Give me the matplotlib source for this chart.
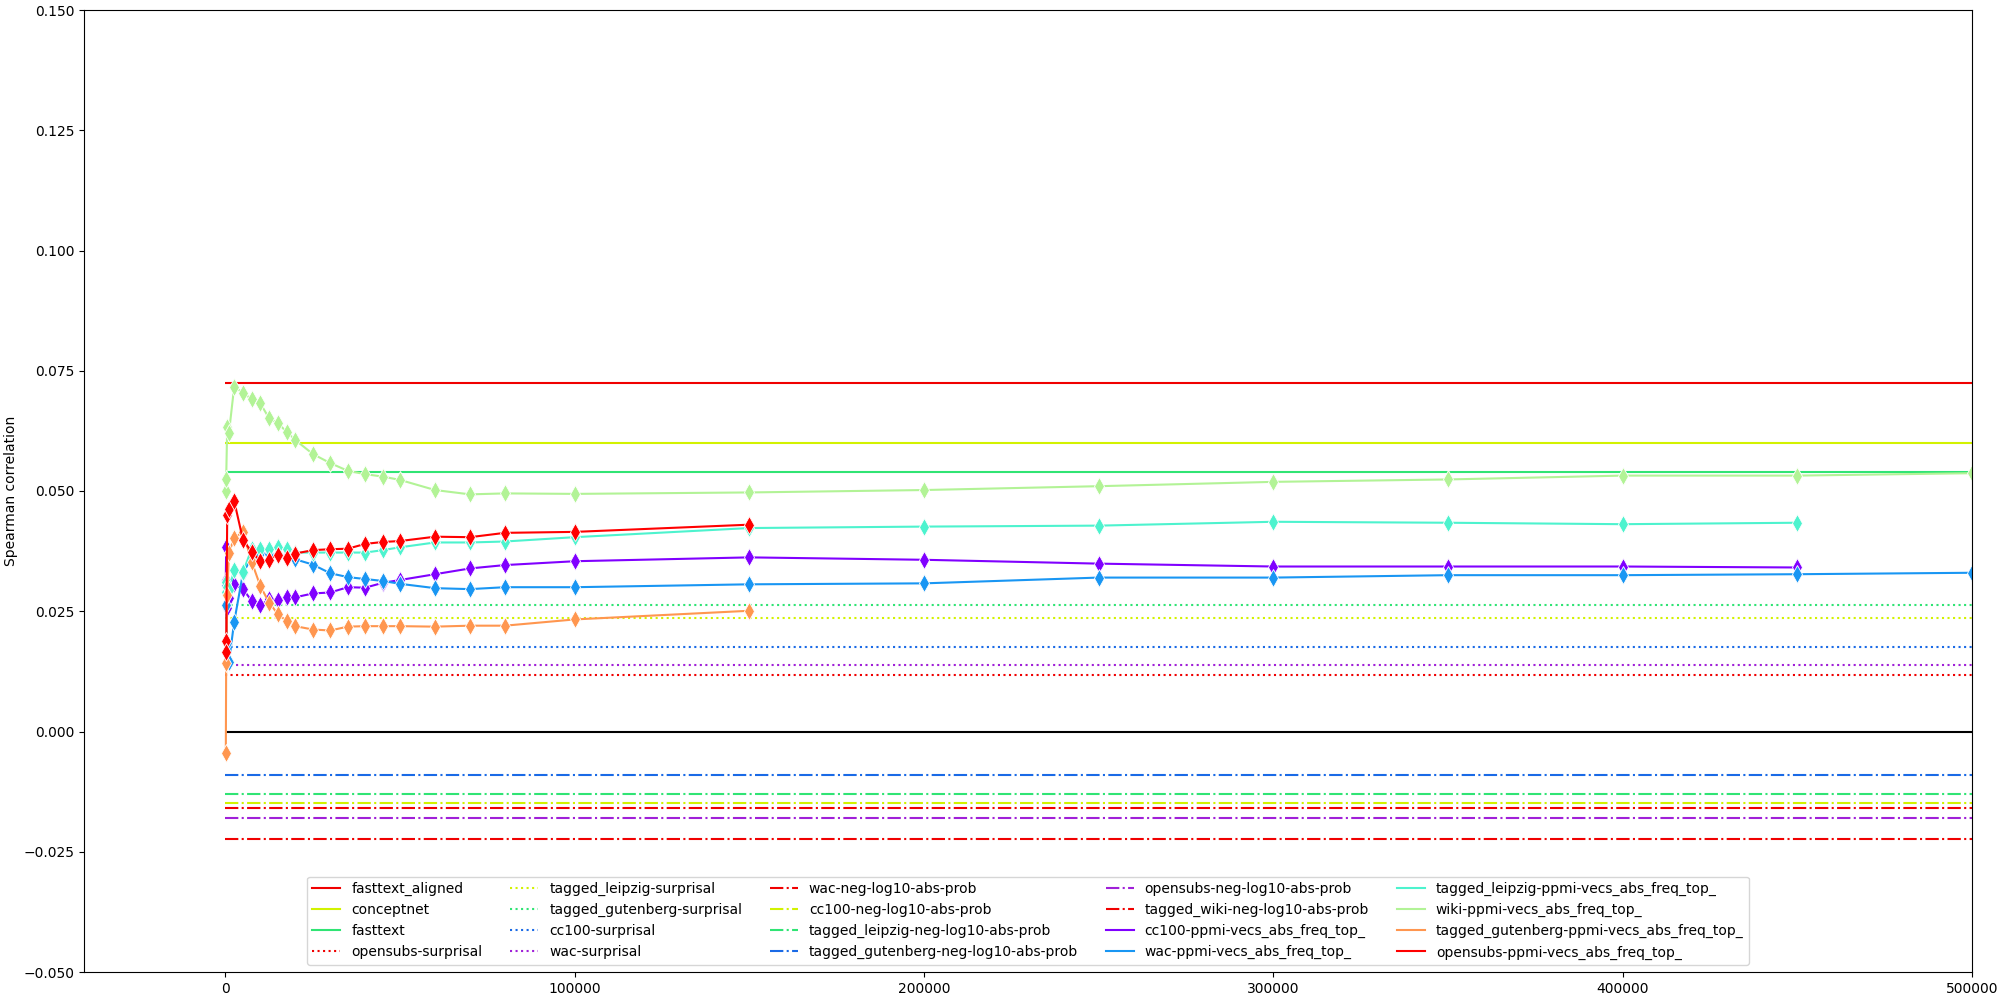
import matplotlib
matplotlib.use("Agg")
import matplotlib.pyplot as plt
from matplotlib.lines import Line2D

# ---------------- data ----------------
x_steps = [100, 200, 500, 1000, 2500, 5000, 7500, 10000, 12500, 15000, 17500,
           20000, 25000, 30000, 35000, 40000, 45000, 50000, 60000, 70000, 80000,
           100000, 150000, 200000, 250000, 300000, 350000, 400000, 450000, 500000]

# constant baselines
base_names = ["fasttext_aligned", "conceptnet", "fasttext"]
base_values = [0.0725, 0.0600, 0.0540]

surprisal_names = ["opensubs-surprisal", "tagged_leipzig-surprisal",
                   "tagged_gutenberg-surprisal", "cc100-surprisal", "wac-surprisal"]
surprisal_values = [0.0118, 0.0235, 0.0263, 0.0176, 0.0139]

neglog_names = ["wac-neg-log10-abs-prob", "cc100-neg-log10-abs-prob",
                "tagged_leipzig-neg-log10-abs-prob", "tagged_gutenberg-neg-log10-abs-prob",
                "opensubs-neg-log10-abs-prob", "tagged_wiki-neg-log10-abs-prob"]
neglog_values = [-0.0160, -0.0148, -0.0129, -0.0090, -0.0179, -0.0223]

# ppmi series (values at x_steps prefix)
ppmi_names = ["cc100-ppmi-vecs_abs_freq_top_", "wac-ppmi-vecs_abs_freq_top_",
              "tagged_leipzig-ppmi-vecs_abs_freq_top_", "wiki-ppmi-vecs_abs_freq_top_",
              "tagged_gutenberg-ppmi-vecs_abs_freq_top_", "opensubs-ppmi-vecs_abs_freq_top_"]

cc100_ppmi = [0.0315, 0.0384, 0.0256, 0.0278, 0.0306, 0.0296, 0.0272, 0.0262, 0.0275,
              0.0274, 0.0279, 0.0279, 0.0287, 0.0289, 0.0300, 0.0299, 0.0309, 0.0315,
              0.0327, 0.0339, 0.0346, 0.0354, 0.0362, 0.0357, 0.0349, 0.0343, 0.0343,
              0.0343, 0.0341]
wac_ppmi = [0.0305, 0.0262, 0.0183, 0.0145, 0.0228, 0.0329, 0.0362, 0.0372, 0.0370,
            0.0368, 0.0364, 0.0358, 0.0347, 0.0329, 0.0321, 0.0317, 0.0313, 0.0307,
            0.0298, 0.0296, 0.0300, 0.0300, 0.0306, 0.0308, 0.0320, 0.0320, 0.0325,
            0.0325, 0.0327, 0.0330]
tagged_leipzig_ppmi = [0.0311, 0.0290, 0.0300, 0.0294, 0.0336, 0.0332, 0.0379, 0.0379,
                       0.0379, 0.0383, 0.0379, 0.0372, 0.0372, 0.0372, 0.0372, 0.0372,
                       0.0377, 0.0383, 0.0393, 0.0393, 0.0395, 0.0404, 0.0423, 0.0426,
                       0.0428, 0.0436, 0.0434, 0.0431, 0.0434]
wiki_ppmi = [0.0499, 0.0524, 0.0634, 0.0621, 0.0717, 0.0704, 0.0691, 0.0682, 0.0651,
             0.0641, 0.0623, 0.0606, 0.0577, 0.0558, 0.0542, 0.0535, 0.0530, 0.0523,
             0.0502, 0.0493, 0.0495, 0.0494, 0.0497, 0.0502, 0.0510, 0.0519, 0.0524,
             0.0532, 0.0532, 0.0537]
tagged_gutenberg_ppmi = [-0.0045, 0.0142, 0.0284, 0.0372, 0.0402, 0.0415, 0.0353, 0.0302,
                         0.0268, 0.0244, 0.0230, 0.0219, 0.0212, 0.0210, 0.0218, 0.0219,
                         0.0219, 0.0219, 0.0218, 0.0220, 0.0220, 0.0233, 0.0251]
opensubs_ppmi = [0.0188, 0.0166, 0.0450, 0.0462, 0.0479, 0.0399, 0.0373, 0.0355, 0.0357,
                 0.0367, 0.0361, 0.0370, 0.0377, 0.0379, 0.0380, 0.0390, 0.0394, 0.0396,
                 0.0405, 0.0404, 0.0413, 0.0415, 0.0430]
ppmi_series = [cc100_ppmi, wac_ppmi, tagged_leipzig_ppmi, wiki_ppmi,
               tagged_gutenberg_ppmi, opensubs_ppmi]

# ---------------- style ----------------
five = ["#f00000", "#d2f200", "#30e474", "#1a6ae6", "#a020d8"]
base_colors = five[:3]
surprisal_colors = five
neglog_colors = five + [five[0]]
ppmi_colors = ["#8000ff", "#1996f3", "#4df3ce", "#b2f396", "#ff964f", "#ff0000"]

LINE_END = 800000

fig, ax = plt.subplots(figsize=(20, 10), dpi=100)
handles = []

for name, val, col in zip(base_names, base_values, base_colors):
    ax.hlines(val, 0, LINE_END, colors=col, linestyles="-", linewidth=1.5)
    handles.append(Line2D([], [], color=col, ls="-", lw=1.5, label=name))
for name, val, col in zip(surprisal_names, surprisal_values, surprisal_colors):
    ax.hlines(val, 0, LINE_END, colors=col, linestyles=":", linewidth=1.5)
    handles.append(Line2D([], [], color=col, ls=":", lw=1.5, label=name))
for name, val, col in zip(neglog_names, neglog_values, neglog_colors):
    ax.hlines(val, 0, LINE_END, colors=col, linestyles="-.", linewidth=1.5)
    handles.append(Line2D([], [], color=col, ls="-.", lw=1.5, label=name))

ax.hlines(0.0, 0, LINE_END, colors="black", linestyles="-", linewidth=1.5)

for name, vals, col in zip(ppmi_names, ppmi_series, ppmi_colors):
    ax.plot(x_steps[:len(vals)], vals, color=col, lw=1.5, marker="d",
            markersize=9, markeredgecolor="white", markeredgewidth=0.6)
    handles.append(Line2D([], [], color=col, ls="-", lw=1.5, label=name))

ax.set_xlim(-40500, 500000)
ax.set_ylim(-0.05, 0.15)
ax.set_yticks([-0.05, -0.025, 0.0, 0.025, 0.05, 0.075, 0.1, 0.125, 0.15])
ax.set_ylabel("Spearman correlation")
ax.legend(handles=handles, loc="lower center", ncol=5, fontsize=10)

fig.subplots_adjust(left=0.042, right=0.986, top=0.99, bottom=0.028)
fig.savefig("out.png", dpi=100)
